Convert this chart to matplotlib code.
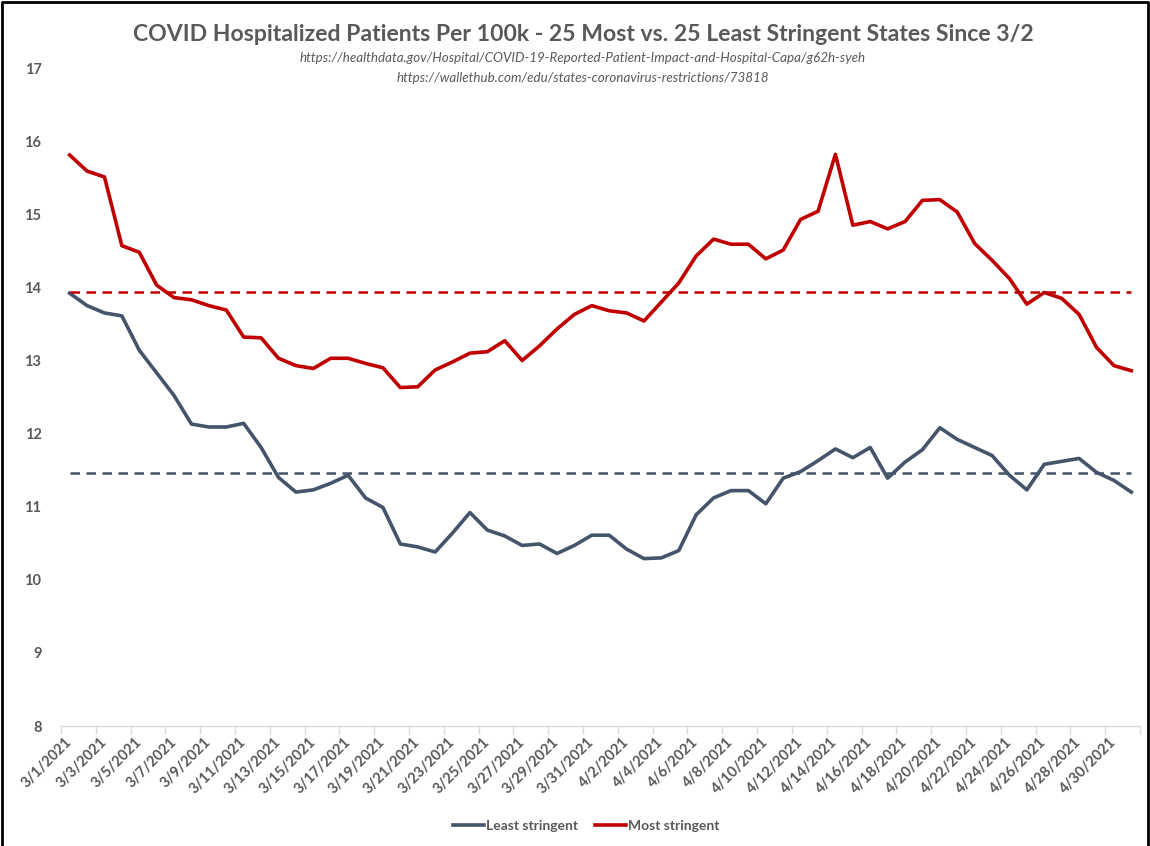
import matplotlib.pyplot as plt
import matplotlib.lines as mlines
import numpy as np
import datetime as dt

# ── Data ─────────────────────────────────────────────────────────────────────
start = dt.date(2021, 3, 1)
dates = [start + dt.timedelta(days=i) for i in range(62)]
date_labels = [f"{d.month}/{d.day}/{d.year}" for d in dates]

most_stringent = [
    15.81, 15.59, 15.51, 14.57, 14.48, 14.03, 13.86, 13.83, 13.75, 13.69,
    13.32, 13.31, 13.03, 12.93, 12.89, 13.03, 13.03, 12.96, 12.90, 12.63,
    12.64, 12.87, 12.98, 13.10, 13.12, 13.27, 13.00, 13.20, 13.43, 13.63,
    13.75, 13.68, 13.65, 13.54, 13.80, 14.06, 14.43, 14.66, 14.59, 14.59,
    14.39, 14.51, 14.93, 15.04, 15.82, 14.85, 14.90, 14.80, 14.90, 15.19,
    15.20, 15.03, 14.60, 14.37, 14.12, 13.77, 13.93, 13.85, 13.63, 13.18,
    12.93, 12.86,
]
least_stringent = [
    13.92, 13.75, 13.65, 13.61, 13.14, 12.83, 12.52, 12.13, 12.09, 12.09,
    12.14, 11.81, 11.40, 11.20, 11.23, 11.32, 11.43, 11.12, 10.99, 10.49,
    10.45, 10.38, 10.64, 10.92, 10.68, 10.60, 10.47, 10.49, 10.36, 10.47,
    10.61, 10.61, 10.42, 10.29, 10.30, 10.40, 10.89, 11.12, 11.22, 11.22,
    11.04, 11.39, 11.48, 11.63, 11.79, 11.67, 11.81, 11.39, 11.61, 11.78,
    12.08, 11.92, 11.81, 11.70, 11.43, 11.23, 11.58, 11.62, 11.66, 11.47,
    11.36, 11.20,
]
most_avg = 13.93
least_avg = 11.46

RED = "#C00000"
GREY_BLUE = "#44546A"
TEXT = "#595959"

plt.rcParams["font.family"] = ["Lato", "DejaVu Sans"]

# ── Plot ─────────────────────────────────────────────────────────────────────
fig = plt.figure(figsize=(11.5, 8.46), dpi=100)
ax = fig.add_axes([0.053, 0.1418, 0.9383, 0.7778])

x = np.arange(len(dates))
ax.plot(x, least_stringent, color=GREY_BLUE, linewidth=2.6, solid_joinstyle="round")
ax.plot(x, most_stringent, color=RED, linewidth=2.6, solid_joinstyle="round")
ax.plot(x, [least_avg] * len(x), color=GREY_BLUE, linewidth=1.8, linestyle=(0, (3.8, 2.6)))
ax.plot(x, [most_avg] * len(x), color=RED, linewidth=1.8, linestyle=(0, (3.8, 2.6)))

ax.set_xlim(-0.5, len(x) - 0.5)
ax.set_ylim(8, 17)
ax.set_yticks(range(8, 18))
ax.set_yticklabels([str(v) for v in range(8, 18)], fontsize=10.5, fontweight="bold", color=TEXT)
ax.tick_params(axis="y", length=0, pad=14)

ax.set_xticks(x[::2])
ax.set_xticklabels(date_labels[::2], rotation=45, ha="right", va="center",
                   rotation_mode="anchor", fontsize=10.5, fontweight="bold", color=TEXT)
ax.set_xticks(np.arange(-0.5, len(x), 2), minor=True)
ax.tick_params(axis="x", which="major", length=0, pad=10)
ax.tick_params(axis="x", which="minor", length=6, color="#D9D9D9", width=1)

for side in ["top", "right", "left"]:
    ax.spines[side].set_visible(False)
ax.spines["bottom"].set_color("#D9D9D9")
ax.spines["bottom"].set_linewidth(1)

# Titles
fig.text(0.507, 0.959, "COVID Hospitalized Patients Per 100k - 25 Most vs. 25 Least Stringent States Since 3/2",
         ha="center", va="center", fontsize=16.6, fontweight="bold", color=TEXT)
fig.text(0.507, 0.931, "https://healthdata.gov/Hospital/COVID-19-Reported-Patient-Impact-and-Hospital-Capa/g62h-syeh",
         ha="center", va="center", fontsize=9.6, style="italic", color=TEXT)
fig.text(0.507, 0.908, "https://wallethub.com/edu/states-coronavirus-restrictions/73818",
         ha="center", va="center", fontsize=9.6, style="italic", color=TEXT)

# Legend
handles = [mlines.Line2D([], [], color=GREY_BLUE, linewidth=2.6, label="Least stringent"),
           mlines.Line2D([], [], color=RED, linewidth=2.6, label="Most stringent")]
leg = fig.legend(handles=handles, loc="center", bbox_to_anchor=(0.51, 0.024), ncol=2,
                 frameon=False, fontsize=10, handlelength=2.2, handletextpad=0.2,
                 columnspacing=1.2)
for t in leg.get_texts():
    t.set_color(TEXT)
    t.set_fontweight("bold")

# Chart frame
fig.add_artist(mlines.Line2D([0.002, 0.002, 0.998, 0.998], [0.0, 0.998, 0.998, 0.0],
                             transform=fig.transFigure, color="black", linewidth=2))

fig.savefig("out.png", dpi=100, facecolor="white")
